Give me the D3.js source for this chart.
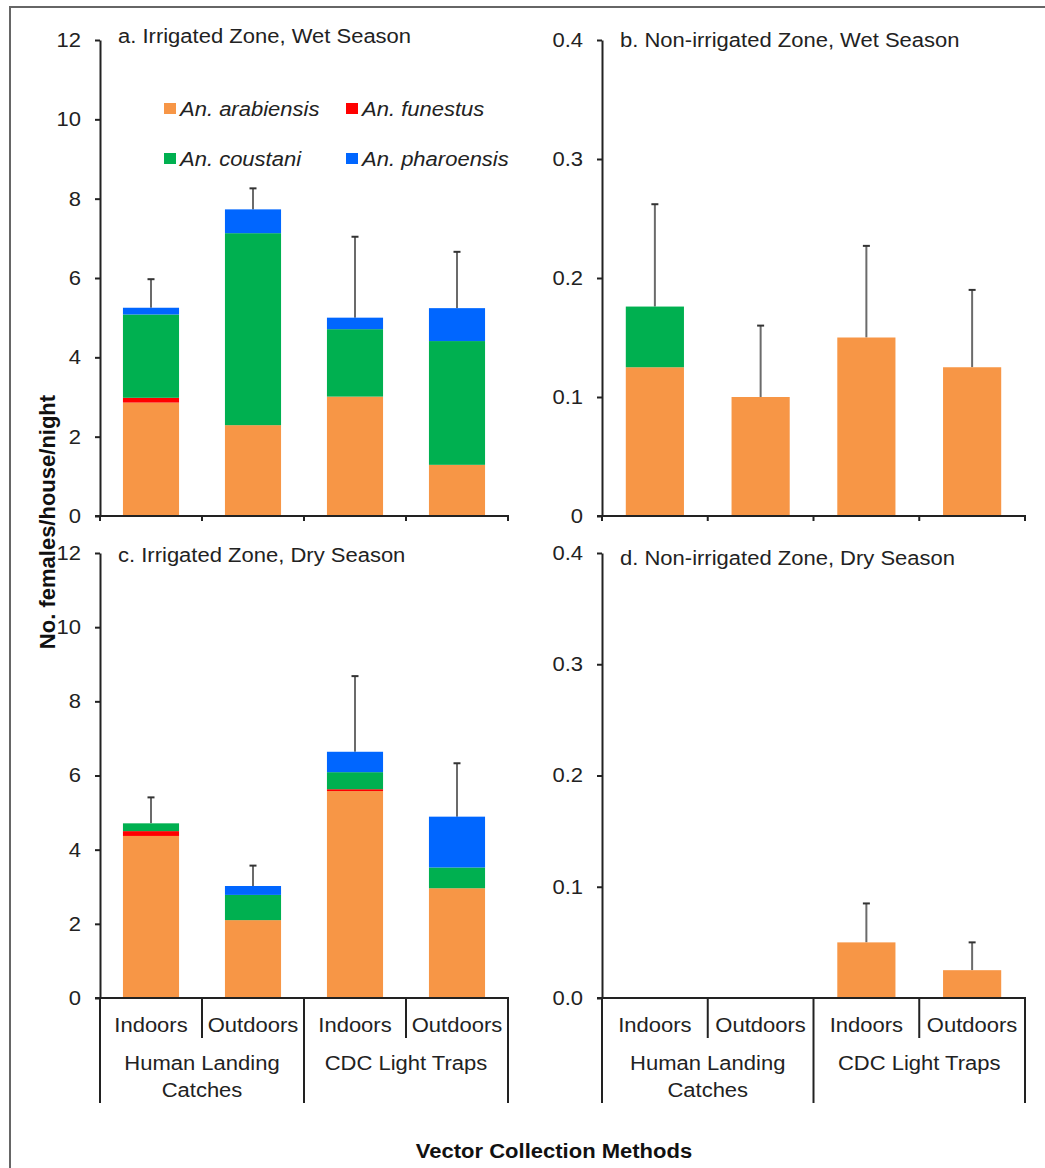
<!DOCTYPE html>
<html>
<head>
<meta charset="utf-8">
<script src="https://cdn.jsdelivr.net/npm/d3@7"></script>
<style>
  body { margin: 0; background: #fff; }
  svg { display: block; font-family: "Liberation Sans", Arial, sans-serif; }
</style>
</head>
<body>
<div id="chart"></div>
<script>
/********** Data **********/
var categories = ["HLC-Indoors", "HLC-Outdoors", "CDC-Indoors", "CDC-Outdoors"]
var catLabels = ["Indoors", "Outdoors", "Indoors", "Outdoors"]
var groupLabels = [["Human Landing", "Catches"], ["CDC Light Traps"]]
var species = ["An. arabiensis", "An. funestus", "An. coustani", "An. pharoensis"]
var speciesColors = ["#F79646", "#FF0000", "#00B050", "#0066FF"]

// a. Irrigated Zone, Wet Season
var aArabiensis = [2.86, 2.29, 3.01, 1.29]
var aFunestus   = [0.12, 0, 0, 0]
var aCoustani   = [2.10, 4.84, 1.70, 3.12]
var aPharoensis = [0.17, 0.60, 0.29, 0.83]
var aError      = [0.72, 0.53, 2.04, 1.42]

// b. Non-irrigated Zone, Wet Season
var bArabiensis = [0.125, 0.100, 0.150, 0.125]
var bFunestus   = [0, 0, 0, 0]
var bCoustani   = [0.051, 0, 0, 0]
var bPharoensis = [0, 0, 0, 0]
var bError      = [0.086, 0.060, 0.077, 0.065]

// c. Irrigated Zone, Dry Season
var cArabiensis = [4.37, 2.10, 5.58, 2.96]
var cFunestus   = [0.13, 0, 0.05, 0]
var cCoustani   = [0.21, 0.68, 0.46, 0.56]
var cPharoensis = [0, 0.24, 0.55, 1.37]
var cError      = [0.70, 0.55, 2.04, 1.44]

// d. Non-irrigated Zone, Dry Season
var dArabiensis = [0, 0, 0.050, 0.025]
var dFunestus   = [0, 0, 0, 0]
var dCoustani   = [0, 0, 0, 0]
var dPharoensis = [0, 0, 0, 0]
var dError      = [0, 0, 0.035, 0.025]

var yTicksIrr = [0, 2, 4, 6, 8, 10, 12]
var yTicksNon = [0, 0.1, 0.2, 0.3, 0.4]

/********** Panels **********/
var panels = [
  {title: "a. Irrigated Zone, Wet Season", series: [aArabiensis, aFunestus, aCoustani, aPharoensis], err: aError,
   ymax: 12, ticks: yTicksIrr, fmt: d3.format("d"), x0: 100, x1: 508, top: 40, bottom: 516, titleY: 43, methods: false},
  {title: "b. Non-irrigated Zone, Wet Season", series: [bArabiensis, bFunestus, bCoustani, bPharoensis], err: bError,
   ymax: 0.4, ticks: yTicksNon, fmt: function(d) { return d === 0 ? "0" : d3.format(".1f")(d) }, x0: 602, x1: 1025, top: 40, bottom: 516, titleY: 47, methods: false},
  {title: "c. Irrigated Zone, Dry Season", series: [cArabiensis, cFunestus, cCoustani, cPharoensis], err: cError,
   ymax: 12, ticks: yTicksIrr, fmt: d3.format("d"), x0: 100, x1: 508, top: 553, bottom: 998, titleY: 562, methods: true},
  {title: "d. Non-irrigated Zone, Dry Season", series: [dArabiensis, dFunestus, dCoustani, dPharoensis], err: dError,
   ymax: 0.4, ticks: yTicksNon, fmt: d3.format(".1f"), x0: 602, x1: 1025, top: 553, bottom: 998, titleY: 565, methods: true}
]

var width = 1045, height = 1168
var ink = "#222"

var svg = d3.select("#chart").append("svg")
    .attr("width", width)
    .attr("height", height)

// the source picture is a little wider than tall, so stretch text sideways
function stretch(sel) {
  sel.each(function() {
    var w = this.getComputedTextLength()
    d3.select(this).attr("textLength", w * 1.1).attr("lengthAdjust", "spacingAndGlyphs")
  })
}

// outer frame
svg.append("path")
  .attr("d", "M10,1172V7H1050")
  .attr("fill", "none")
  .attr("stroke", "#666")
  .attr("stroke-width", 2)

panels.forEach(function(p) {
  var g = svg.append("g")

  var x = d3.scaleBand().domain(categories).range([p.x0, p.x1]).padding(0)
  var y = d3.scaleLinear().domain([0, p.ymax]).range([p.bottom, p.top])
  var barW = x.bandwidth() * 0.55

  // build rows for d3.stack
  var rows = categories.map(function(c, i) {
    var r = {cat: c}
    species.forEach(function(s, k) { r[s] = p.series[k][i] })
    r.err = p.err[i]
    r.total = d3.sum(p.series, function(arr) { return arr[i] })
    return r
  })
  var stacked = d3.stack().keys(species)(rows)

  // error bars (drawn under bars)
  var eb = g.append("g").selectAll("g").data(rows).join("g")
  eb.append("line")
    .attr("x1", function(d) { return x(d.cat) + x.bandwidth() / 2 })
    .attr("x2", function(d) { return x(d.cat) + x.bandwidth() / 2 })
    .attr("y1", function(d) { return y(d.total) })
    .attr("y2", function(d) { return y(d.total + d.err) })
    .attr("stroke", "#6b6b6b")
    .attr("stroke-width", 2)
  eb.append("line")
    .attr("x1", function(d) { return x(d.cat) + x.bandwidth() / 2 - 3.5 })
    .attr("x2", function(d) { return x(d.cat) + x.bandwidth() / 2 + 3.5 })
    .attr("y1", function(d) { return y(d.total + d.err) })
    .attr("y2", function(d) { return y(d.total + d.err) })
    .attr("stroke", "#333")
    .attr("stroke-width", 2)

  // stacked bars
  g.append("g").selectAll("g").data(stacked).join("g")
    .attr("fill", function(d, i) { return speciesColors[i] })
    .selectAll("rect").data(function(d) { return d }).join("rect")
      .attr("x", function(d) { return x(d.data.cat) + (x.bandwidth() - barW) / 2 })
      .attr("width", barW)
      .attr("y", function(d) { return y(d[1]) })
      .attr("height", function(d) { return y(d[0]) - y(d[1]) })

  // y axis
  var yAxis = g.append("g")
    .attr("transform", "translate(" + p.x0 + ",0)")
    .call(d3.axisLeft(y).tickValues(p.ticks).tickFormat(p.fmt).tickSize(5).tickSizeOuter(0).tickPadding(14))
  yAxis.select(".domain").attr("stroke", ink).attr("stroke-width", 2)
  yAxis.selectAll(".tick line").attr("stroke", ink).attr("stroke-width", 2)
  yAxis.selectAll(".tick text")
    .attr("fill", ink)
    .style("font-size", "20px")
    .call(stretch)

  // x axis line and boundary ticks
  g.append("line")
    .attr("x1", p.x0 - 5).attr("x2", p.x1 + 1)
    .attr("y1", p.bottom).attr("y2", p.bottom)
    .attr("stroke", ink).attr("stroke-width", 2)

  var bounds = categories.map(function(c) { return x(c) }).concat([p.x1])
  var tickLen = p.methods ? bounds.map(function(b, i) { return i % 2 === 0 ? 105 : 40 }) : bounds.map(function() { return 5 })
  g.append("g").selectAll("line").data(bounds).join("line")
    .attr("x1", function(d) { return d })
    .attr("x2", function(d) { return d })
    .attr("y1", p.bottom)
    .attr("y2", function(d, i) { return p.bottom + tickLen[i] })
    .attr("stroke", ink)
    .attr("stroke-width", 2)

  if (p.methods) {
    g.append("g").selectAll("text").data(categories).join("text")
      .attr("x", function(d) { return x(d) + x.bandwidth() / 2 })
      .attr("y", p.bottom + 34)
      .attr("text-anchor", "middle")
      .attr("fill", ink)
      .style("font-size", "20px")
      .text(function(d, i) { return catLabels[i] })
      .call(stretch)

    groupLabels.forEach(function(lines, gi) {
      var cx = (x(categories[gi * 2]) + x(categories[gi * 2 + 1]) + x.bandwidth()) / 2
      lines.forEach(function(t, li) {
        g.append("text")
          .attr("x", cx)
          .attr("y", p.bottom + 72 + li * 27)
          .attr("text-anchor", "middle")
          .attr("fill", ink)
          .style("font-size", "20px")
          .text(t)
          .call(stretch)
      })
    })
  }

  // panel title
  g.append("text")
    .attr("x", p.x0 + 18)
    .attr("y", p.titleY)
    .attr("fill", ink)
    .style("font-size", "20px")
    .text(p.title)
    .call(stretch)
})

// legend (inside panel a)
var legendPos = [[164, 103], [346, 103], [164, 153], [346, 153]]
var legendOrder = [0, 1, 2, 3]
var legend = svg.append("g").selectAll("g").data(legendOrder).join("g")
  .attr("transform", function(d, i) { return "translate(" + legendPos[i][0] + "," + legendPos[i][1] + ")" })
legend.append("rect")
  .attr("width", 12).attr("height", 11)
  .attr("fill", function(d) { return speciesColors[d] })
legend.append("text")
  .attr("x", 16).attr("y", 13)
  .attr("fill", ink)
  .style("font-size", "20px")
  .style("font-style", "italic")
  .text(function(d) { return species[d] })
  .call(stretch)

// y axis title
svg.append("text")
  .attr("transform", "translate(55,522) rotate(-90)")
  .attr("text-anchor", "middle")
  .attr("fill", "#111")
  .style("font-size", "22px")
  .style("font-weight", "bold")
  .text("No. females/house/night")

// x axis title
svg.append("text")
  .attr("x", 554)
  .attr("y", 1158)
  .attr("text-anchor", "middle")
  .attr("fill", "#111")
  .style("font-size", "20px")
  .style("font-weight", "bold")
  .text("Vector Collection Methods")
  .call(stretch)
</script>
</body>
</html>
